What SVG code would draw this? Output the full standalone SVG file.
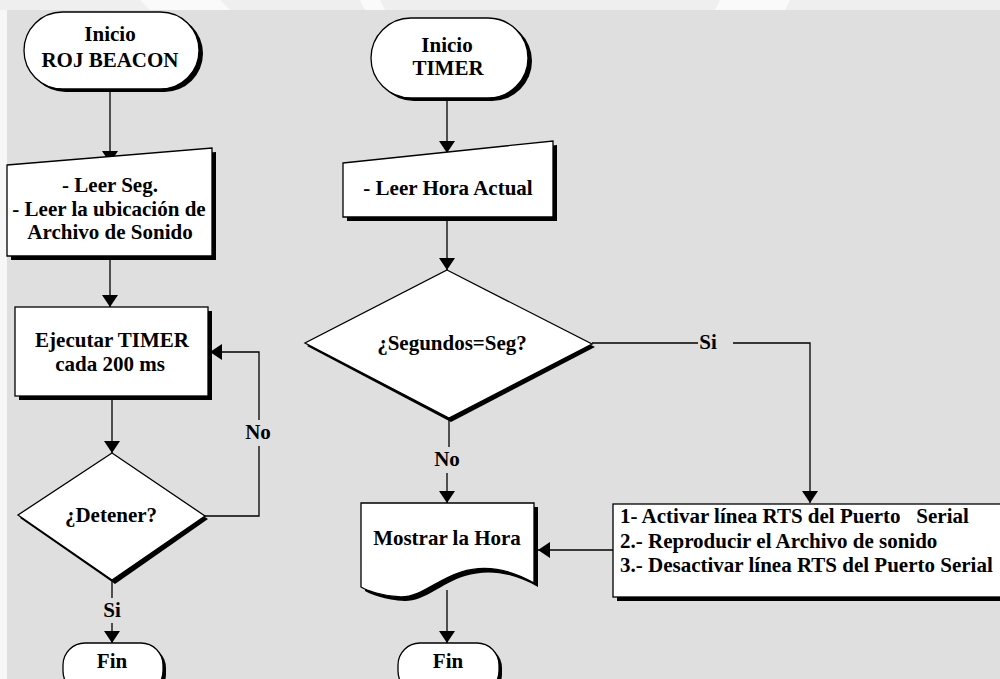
<svg xmlns="http://www.w3.org/2000/svg" width="1000" height="679" viewBox="0 0 1000 679">
<defs>
<style>
.t{font-family:"Liberation Serif","DejaVu Serif",serif;font-weight:bold;font-size:21px;fill:#000}
.c{text-anchor:middle}
.shape{fill:#fff;stroke:#000;stroke-width:1.3}
.sh{fill:#000}
.ln{fill:none;stroke:#000;stroke-width:1.3}
</style>
<marker id="ah" viewBox="0 0 12 16" refX="12" refY="8" markerWidth="12" markerHeight="16" markerUnits="userSpaceOnUse" orient="auto">
<path d="M0,0 L12,8 L0,16 Z" fill="#000"/>
</marker>
</defs>
<rect x="0" y="0" width="1000" height="679" fill="#f7f7f7"/>
<rect x="0" y="0" width="1000" height="10" fill="#efefef"/>
<path d="M140,0 L220,0 L230,10 L150,10 Z M360,0 L380,0 L385,10 L365,10 Z M720,0 L790,0 L785,10 L715,10 Z" fill="#fafafa"/>
<rect x="7" y="10" width="993" height="669" fill="#dfdfdf"/>

<g id="connectors">
<path class="ln" d="M110,92 V163" marker-end="url(#ah)"/>
<path class="ln" d="M110,259 V307" marker-end="url(#ah)"/>
<path class="ln" d="M112,400 V453" marker-end="url(#ah)"/>
<path class="ln" d="M205,516 H259 V446"/>
<path class="ln" d="M259,420 V352 H210" marker-end="url(#ah)"/>
<path class="ln" d="M112,580 V598"/>
<path class="ln" d="M112,623 V643" marker-end="url(#ah)"/>
<path class="ln" d="M447,98 V153" marker-end="url(#ah)"/>
<path class="ln" d="M447,221 V270" marker-end="url(#ah)"/>
<path class="ln" d="M592,343 H698"/>
<path class="ln" d="M733,343 H810 V503" marker-end="url(#ah)"/>
<path class="ln" d="M449,418 V447"/>
<path class="ln" d="M447,473 V503" marker-end="url(#ah)"/>
<path class="ln" d="M613,550 H538" marker-end="url(#ah)"/>
<path class="ln" d="M447,590 V643" marker-end="url(#ah)"/>
<text class="t c" x="258" y="439" font-family="Liberation Serif, DejaVu Serif, serif">No</text>
<text class="t c" x="112" y="617" font-family="Liberation Serif, DejaVu Serif, serif">Si</text>
<text class="t c" x="708" y="349" font-family="Liberation Serif, DejaVu Serif, serif">Si</text>
<text class="t c" x="447" y="466" font-family="Liberation Serif, DejaVu Serif, serif">No</text>
</g>

<g id="inicio-roj">
<rect class="sh" x="27" y="15" width="176" height="77" rx="38.5"/>
<rect class="shape" x="24" y="12" width="175" height="77" rx="38.5"/>
<text class="t c" x="110" y="41">Inicio</text>
<text class="t c" x="110" y="67">ROJ BEACON</text>
</g>

<g id="leer-seg">
<path class="sh" d="M11,169 L216,152 V260 H11 Z"/>
<path class="shape" d="M7,165 L212,148 V256 H7 Z"/>
<text class="t c" x="110" y="192">- Leer Seg.</text>
<text class="t c" x="109" y="216">- Leer la ubicación de</text>
<text class="t c" x="110" y="239">Archivo de Sonido</text>
</g>

<g id="ejecutar-timer">
<rect class="sh" x="19" y="311" width="193" height="89"/>
<rect class="shape" x="15" y="307" width="193" height="89"/>
<text class="t c" x="112" y="347">Ejecutar TIMER</text>
<text class="t c" x="110" y="371">cada 200 ms</text>
</g>

<g id="detener">
<path class="sh" d="M112,456 L208,519 L115,584 L20,518 Z"/>
<path class="shape" d="M112,453 L205,516 L112,580 L18,515 Z"/>
<text class="t c" x="111" y="522">¿Detener?</text>
</g>

<g id="fin-left">
<rect class="sh" x="66" y="646" width="100" height="50" rx="22"/>
<rect class="shape" x="63" y="643" width="100" height="50" rx="22"/>
<text class="t c" x="112" y="668">Fin</text>
</g>

<g id="inicio-timer">
<rect class="sh" x="374" y="21" width="158" height="80" rx="40"/>
<rect class="shape" x="371" y="18" width="157" height="80" rx="40"/>
<text class="t c" x="447" y="52">Inicio</text>
<text class="t c" x="448" y="75">TIMER</text>
</g>

<g id="leer-hora">
<path class="sh" d="M347,167 L557,145 V221 H347 Z"/>
<path class="shape" d="M343,163 L553,141 V217 H343 Z"/>
<text class="t c" x="448" y="195">- Leer Hora Actual</text>
</g>

<g id="segundos">
<path class="sh" d="M447,273 L595,347 L451,422 L307,346 Z"/>
<path class="shape" d="M447,270 L592,344 L449,418 L305,343 Z"/>
<text class="t c" x="452" y="350">¿Segundos=Seg?</text>
</g>

<g id="mostrar-hora">
<path class="sh" d="M365,507 H538 V587 C515,574 490,568 465,576 C440,584 425,601 405,601 C385,600 370,594 365,591 Z"/>
<path class="shape" d="M361,503 H534 V583 C511,570 486,564 461,572 C436,580 421,597 401,597 C381,596 366,590 361,587 Z"/>
<text class="t c" x="447" y="545">Mostrar la Hora</text>
</g>

<g id="acciones">
<rect class="sh" x="617" y="508" width="390" height="93"/>
<rect class="shape" x="613" y="504" width="390" height="93"/>
<text class="t" x="620" y="523" xml:space="preserve">1- Activar línea RTS del Puerto   Serial</text>
<text class="t" x="620" y="548">2.- Reproducir el Archivo de sonido</text>
<text class="t" x="620" y="572">3.- Desactivar línea RTS del Puerto Serial</text>
</g>

<g id="fin-right">
<rect class="sh" x="401" y="646" width="101" height="50" rx="22"/>
<rect class="shape" x="398" y="643" width="101" height="50" rx="22"/>
<text class="t c" x="448" y="668">Fin</text>
</g>
</svg>
